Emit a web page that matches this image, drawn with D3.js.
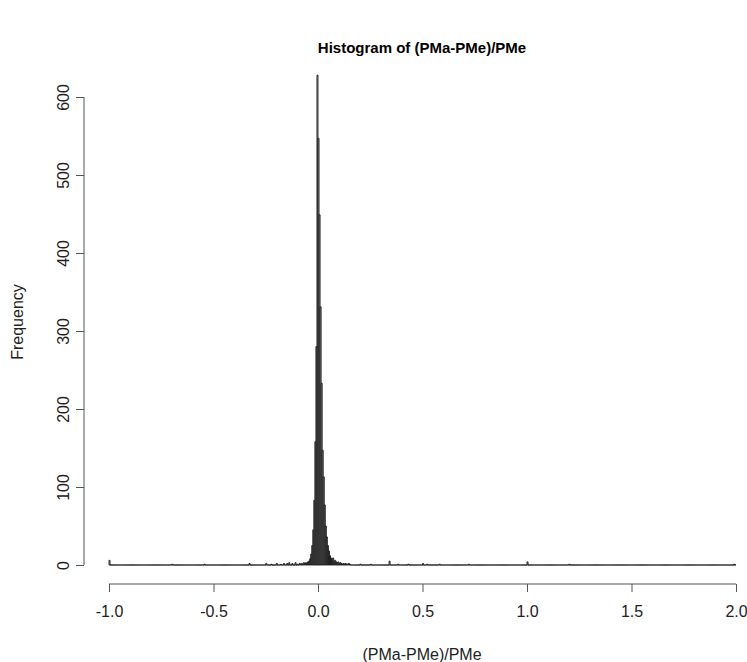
<!DOCTYPE html>
<html lang="en">
<head>
    <meta charset="UTF-8">
    <title>Histogram of (PMa-PMe)/PMe</title>
    <script src="https://d3js.org/d3.v7.min.js"></script>
    <style>
        body {
            margin: 0;
            background: #fff;
            font-family: 'Liberation Sans', Arial, sans-serif;
        }
        .tick text { font-size: 16px; fill: #222; }
    </style>
</head>
<body>
    <svg width="747" height="662"></svg>

    <script>
        // histogram breaks
        const binStart = -1.0;
        const binWidth = 0.005;
        const binCount = 600;

        // counts of the dense core, one per bin, starting at coreStart
        const coreStart = -0.100;
        const coreCounts = [
            1, 0, 2, 1, 2, 1, 3, 2, 3, 2, 4, 5, 8, 14, 25, 45, 83, 158, 280, 628,
            547, 449, 331, 233, 147, 113, 77, 50, 36, 25, 18, 12, 9, 7, 9, 5, 6, 4, 3, 4,
            2, 3, 2, 1, 2, 1, 2, 1, 1, 2, 1
        ];

        // isolated bins away from the core
        const outlierStarts = [-1.000, -0.700, -0.545, -0.330, -0.250, -0.225, -0.200, -0.180,
            -0.165, -0.150, -0.140, -0.125, -0.110, 0.200, 0.250, 0.340, 0.380, 0.430,
            0.500, 0.520, 0.580, 0.720, 1.000, 1.200, 1.990];
        const outlierCounts = [6, 1, 1, 2, 2, 1, 2, 1, 2, 2, 3, 2, 3, 1, 1, 5, 1, 1, 2, 1, 1, 1, 4, 1, 1];

        const xTicks = [-1.0, -0.5, 0.0, 0.5, 1.0, 1.5, 2.0];
        const yTicks = [0, 100, 200, 300, 400, 500, 600];

        // assemble bins
        const counts = new Array(binCount).fill(0);
        const idx = v => Math.round((v - binStart) / binWidth);
        coreCounts.forEach((c, i) => { counts[idx(coreStart) + i] = c; });
        outlierStarts.forEach((v, i) => { counts[idx(v)] = outlierCounts[i]; });
        const bins = counts.map((c, i) => ({ x0: binStart + i * binWidth, x1: binStart + (i + 1) * binWidth, n: c }));

        const svg = d3.select("svg");

        const x = d3.scaleLinear().domain([-1, 2]).range([109, 736]);
        const y = d3.scaleLinear().domain([0, 600]).range([565, 97]);

        // bars as closed paths, so empty bins still leave a line on the baseline
        svg.append("g")
            .selectAll("path")
            .data(bins)
            .join("path")
            .attr("d", d => `M${x(d.x0)},${y(0)}V${y(d.n)}H${x(d.x1)}V${y(0)}Z`)
            .attr("fill", "#bdbdbd")
            .attr("stroke", "#111")
            .attr("stroke-width", 0.85);

        // x axis (plain hyphen for negatives, like R)
        const xAxis = svg.append("g")
            .attr("transform", "translate(0,584)")
            .call(d3.axisBottom(x).tickValues(xTicks).tickFormat(d => d.toFixed(1)).tickSize(8).tickPadding(14));
        xAxis.selectAll("path, line").attr("stroke", "#555");
        xAxis.select(".domain").attr("d", `M${x(-1)},0H${x(2)}`);

        // y axis
        const yAxis = svg.append("g")
            .attr("transform", "translate(84,0)")
            .call(d3.axisLeft(y).tickValues(yTicks).tickSize(8));
        yAxis.selectAll("path, line").attr("stroke", "#555");
        yAxis.select(".domain").attr("d", `M0,${y(0)}V${y(600)}`);
        yAxis.selectAll(".tick text")
            .attr("text-anchor", "middle")
            .attr("x", 0)
            .attr("dy", "0.35em")
            .attr("transform", "translate(-21,0) rotate(-90)");

        // titles
        svg.append("text")
            .attr("x", 422).attr("y", 53)
            .attr("text-anchor", "middle")
            .style("font-size", "15px").style("font-weight", "bold")
            .text("Histogram of (PMa-PMe)/PMe");

        svg.append("text")
            .attr("x", 422).attr("y", 660)
            .attr("text-anchor", "middle")
            .style("font-size", "16px").style("fill", "#222")
            .text("(PMa-PMe)/PMe");

        svg.append("text")
            .attr("transform", "translate(23,322) rotate(-90)")
            .attr("text-anchor", "middle")
            .style("font-size", "16px").style("fill", "#222")
            .text("Frequency");
    </script>
</body>
</html>
